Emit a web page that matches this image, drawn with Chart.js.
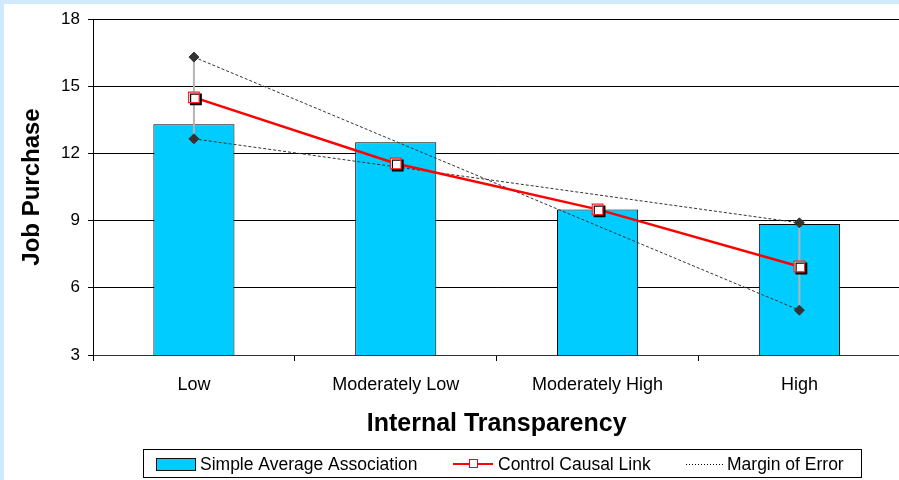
<!DOCTYPE html>
<html>
<head>
<meta charset="utf-8">
<script src="https://cdn.jsdelivr.net/npm/chart.js@4.4.1/dist/chart.umd.min.js"></script>
<style>
  html, body { margin: 0; padding: 0; overflow: hidden; background: #cfeafd; }
  #wrap { position: absolute; left: 4px; top: 4px; width: 905px; height: 476px; background: #fff; }
</style>
</head>
<body>
<div id="wrap"><canvas id="chart" width="905" height="476"></canvas></div>
<script>
const categories = ['Low', 'Moderately Low', 'Moderately High', 'High'];
const simpleAverage = [13.3, 12.5, 9.5, 8.85];
const controlCausal = [14.5, 11.55, 9.5, 6.95];
// margin of error is only given at the two extremes, lines span the gap
const marginFalling = [16.3, null, null, 5.0];
const marginRising = [12.65, null, null, 8.9];
const yTicks = [3, 6, 9, 12, 15, 18];

const FONT = "'Liberation Sans', Arial, sans-serif";

// vertical grey range line at one category, from the two margin values
function rangeLine(idx) {
    return {
        type: 'line',
        data: [
            { x: categories[idx], y: marginFalling[idx] },
            { x: categories[idx], y: marginRising[idx] }
        ],
        borderColor: '#b4b4b4',
        borderWidth: 2,
        pointRadius: 0,
        order: 5
    };
}

const markerShadow = {
    id: 'markerShadow',
    beforeDatasetDraw(chart, args) {
        if (chart.data.datasets[args.index].shadow) {
            const ctx = chart.ctx;
            ctx.save();
            ctx.shadowColor = '#000';
            ctx.shadowOffsetX = 2;
            ctx.shadowOffsetY = 2;
            ctx.shadowBlur = 0;
        }
    },
    afterDatasetDraw(chart, args) {
        if (chart.data.datasets[args.index].shadow)
            chart.ctx.restore();
    }
};

// boxed legend along the bottom, like the original
const boxLegend = {
    id: 'boxLegend',
    afterDraw(chart) {
        const ctx = chart.ctx;
        const cy = 460;
        ctx.save();
        ctx.lineWidth = 1;
        ctx.strokeStyle = '#000';
        ctx.strokeRect(139.5, 445.5, 718, 28);

        ctx.fillStyle = '#00ccff';
        ctx.fillRect(152.5, 454.5, 39, 12);
        ctx.strokeStyle = '#111';
        ctx.strokeRect(152.5, 454.5, 39, 12);

        ctx.strokeStyle = '#ff0000';
        ctx.lineWidth = 2;
        ctx.beginPath();
        ctx.moveTo(449, cy);
        ctx.lineTo(489, cy);
        ctx.stroke();
        ctx.fillStyle = '#fff';
        ctx.lineWidth = 1;
        ctx.fillRect(465.5, cy - 4.5, 8, 8);
        ctx.strokeRect(465.5, cy - 4.5, 8, 8);

        ctx.strokeStyle = '#000';
        ctx.setLineDash([1, 2]);
        ctx.beginPath();
        ctx.moveTo(682, cy + 0.5);
        ctx.lineTo(719, cy + 0.5);
        ctx.stroke();
        ctx.setLineDash([]);

        ctx.fillStyle = '#000';
        ctx.font = '17.5px ' + FONT;
        ctx.textBaseline = 'middle';
        ctx.fillText('Simple Average Association', 196, cy + 1);
        ctx.fillText('Control Causal Link', 494, cy + 1);
        ctx.fillText('Margin of Error', 723, cy + 1);
        ctx.restore();
    }
};

new Chart(document.getElementById('chart'), {
    type: 'bar',
    data: {
        labels: categories,
        datasets: [
            {
                type: 'line',
                label: 'Control Causal Link markers',
                data: controlCausal,
                showLine: false,
                pointStyle: 'rect',
                pointRadius: 7.5,
                pointBackgroundColor: '#fff',
                pointBorderColor: '#ff2020',
                pointBorderWidth: 1.2,
                shadow: true,
                order: 1
            },
            {
                type: 'line',
                label: 'Control Causal Link',
                data: controlCausal,
                borderColor: '#ff0000',
                borderWidth: 2.5,
                pointRadius: 0,
                order: 2
            },
            {
                type: 'line',
                label: 'Margin of Error',
                data: marginFalling,
                spanGaps: true,
                borderColor: '#333',
                borderWidth: 1,
                borderDash: [3, 2],
                pointStyle: 'rectRot',
                pointRadius: 5,
                pointBackgroundColor: '#333',
                pointBorderColor: '#333',
                order: 4
            },
            {
                type: 'line',
                label: 'Margin of Error 2',
                data: marginRising,
                spanGaps: true,
                borderColor: '#333',
                borderWidth: 1,
                borderDash: [3, 2],
                pointStyle: 'rectRot',
                pointRadius: 5,
                pointBackgroundColor: '#333',
                pointBorderColor: '#333',
                order: 4
            },
            rangeLine(0),
            rangeLine(3),
            {
                label: 'Simple Average Association',
                data: simpleAverage,
                backgroundColor: '#00ccff',
                borderColor: '#000',
                borderWidth: 1,
                borderSkipped: false,
                categoryPercentage: 1,
                barPercentage: 0.402,
                order: 6
            }
        ]
    },
    options: {
        responsive: false,
        animation: false,
        layout: { padding: { left: 0, right: 4, top: 15, bottom: 0 } },
        plugins: {
            legend: { display: false },
            tooltip: { enabled: false }
        },
        scales: {
            x: {
                grid: {
                    drawOnChartArea: false,
                    drawTicks: true,
                    tickLength: 6,
                    color: '#000'
                },
                border: { color: '#333', width: 1 },
                ticks: {
                    color: '#000',
                    padding: 13,
                    font: { family: FONT, size: 18 }
                },
                title: {
                    display: true,
                    text: 'Internal Transparency',
                    color: '#000',
                    font: { family: FONT, size: 25, weight: 'bold' },
                    padding: { top: 0, bottom: 41 }
                },
                afterFit(scale) {
                    scale.height = 125;
                    scale.paddingLeft = 0;
                    scale.paddingRight = 0;
                }
            },
            y: {
                min: 3,
                max: 18,
                afterBuildTicks(scale) { scale.ticks = yTicks.map(v => ({ value: v })); },
                grid: { color: '#000', tickLength: 5 },
                border: { color: '#000', width: 1 },
                ticks: {
                    color: '#000',
                    padding: 8,
                    font: { family: FONT, size: 17 }
                },
                title: {
                    display: true,
                    text: 'Job Purchase',
                    color: '#000',
                    font: { family: FONT, size: 24, weight: 'bold' },
                    padding: { top: 14, bottom: 0 }
                },
                afterFit(scale) {
                    scale.width = 89;
                    scale.paddingTop = 0;
                    scale.paddingBottom = 0;
                }
            }
        }
    },
    plugins: [markerShadow, boxLegend]
});
</script>
</body>
</html>
